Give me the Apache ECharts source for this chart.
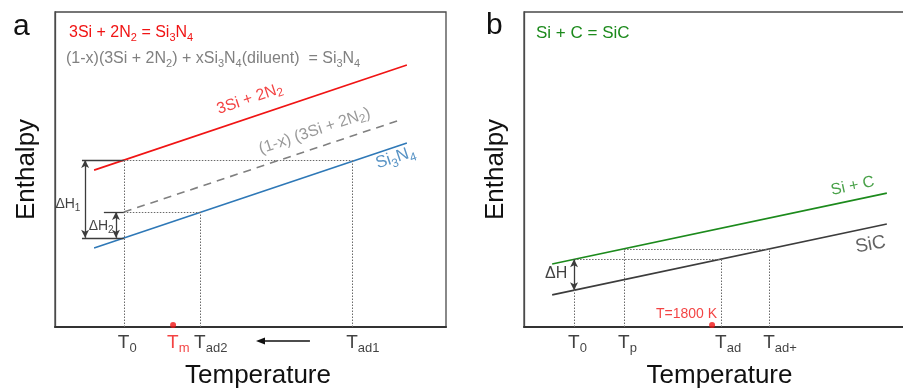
<!DOCTYPE html>
<html>
<head>
<meta charset="utf-8">
<script src="https://cdn.jsdelivr.net/npm/echarts@6/dist/echarts.min.js"></script>
<style>
  html, body { margin: 0; padding: 0; background: #fff; }
  #main { width: 903px; height: 390px; }
</style>
</head>
<body>
<div id="main"></div>
<script>
// both panels use arbitrary units: 0..100 along temperature and enthalpy

// ---- panel a : 3Si + 2N2 = Si3N4 ----
const aReactant = [[10, 49.8], [90, 83.2]]     // 3Si + 2N2
const aProduct = [[10, 25.1], [90, 58.4]]      // Si3N4
const aDiluted = [[17.6, 36.5], [88.2, 65.7]]  // (1-x)(3Si + 2N2), dashed
const aTickNames = ['T_0', 'T_m', 'T_{ad2}', 'T_{ad1}']
const aTickX = [17.6, 30.2, 37.1, 76.0]
const aLevels = [53.0, 36.5, 28.3]             // reactant@T0, product@Tad2, product@T0
const aMelt = [30.2, 0.6]
const aShift = [65.2, 51.4]                    // arrow Tad1 -> Tad2

// ---- panel b : Si + C = SiC ----
const bReactant = [[7.2, 20.0], [92.8, 42.5]]  // Si + C
const bProduct = [[7.2, 10.2], [92.8, 32.7]]   // SiC
const bTickNames = ['T_0', 'T_p', 'T_{ad}', 'T_{ad+}']
const bTickX = [12.8, 25.6, 50.4, 62.7]
const bLevels = [21.5, 24.8, 11.7]             // reactant@T0 (= SiC@Tad), reactant@Tp (= SiC@Tad+), SiC@T0
const bMelt = [48.1, 0.6]

const FONT = 'Liberation Sans, Arial, sans-serif'
const RED = '#f01414'
const BLUE = '#2e78b7'
const GREEN = '#1c8a1c'
const GREY = '#808080'
const DARK = '#3c3c3c'

// "Si_3N_4" / "T_{ad1}" -> rich text tokens
function sub (str) {
  const re = /_(?:\{([^}]*)\}|(\w))/g
  let out = ''
  let last = 0
  let m
  while ((m = re.exec(str))) {
    if (m.index > last) out += '{n|' + str.slice(last, m.index) + '}'
    out += '{s|' + (m[1] || m[2]) + '}'
    last = re.lastIndex
  }
  if (last < str.length) out += '{n|' + str.slice(last) + '}'
  return out
}

function richStyle (size, color, subSize, drop) {
  const s = subSize || Math.round(size * 0.72)
  return {
    n: { fontSize: size, fontWeight: 'normal', color: color, fontFamily: FONT, verticalAlign: 'top', lineHeight: Math.round(size * 1.15) },
    s: { fontSize: s, fontWeight: 'normal', color: color, fontFamily: FONT, verticalAlign: 'bottom', lineHeight: Math.round(s * 1.15), padding: [Math.round(size * (drop || 0.5)), 0, 0, 0] }
  }
}

// text placed at a data point
function note (x, y, text, size, color, rotate, extra) {
  return {
    value: [x, y],
    label: Object.assign({
      show: true,
      position: 'inside',
      formatter: sub(text),
      rich: richStyle(size, color),
      rotate: rotate || 0,
      align: 'center',
      verticalAlign: 'middle'
    }, extra || {})
  }
}

function tickNotes (names, xs, colors) {
  return names.map((name, i) => note(xs[i], 0, name, 19, colors[i], 0, {
    align: 'left', verticalAlign: 'top', offset: [-6, 6], rich: richStyle(19, colors[i], 13, 0.45)
  }))
}

function seg (x1, y1, x2, y2) {
  return [{ coord: [x1, y1] }, { coord: [x2, y2] }]
}

function lineSeries (idx, data, color, type, marks) {
  const s = {
    type: 'line',
    xAxisIndex: idx,
    yAxisIndex: idx,
    data: data,
    symbol: 'none',
    silent: true,
    animation: false,
    lineStyle: { color: color, width: 1.6, type: type || 'solid' }
  }
  if (marks) s.markLine = marks
  return s
}

function guides (list, style, symbol) {
  return {
    silent: true,
    animation: false,
    symbol: symbol || 'none',
    symbolSize: [6, 8],
    label: { show: false },
    lineStyle: style,
    data: list
  }
}

function textSeries (idx, data) {
  return {
    type: 'scatter',
    xAxisIndex: idx,
    yAxisIndex: idx,
    symbolSize: 0,
    silent: true,
    clip: false,
    animation: false,
    data: data
  }
}

const dotted = { color: '#6a6a6a', width: 1, type: [1.5, 1.5] }
const solid = { color: DARK, width: 1.3, type: 'solid' }

const axisCommon = {
  type: 'value',
  min: 0,
  max: 100,
  axisLabel: { show: false },
  axisTick: { show: false },
  splitLine: { show: false }
}

const option = {
  animation: false,
  backgroundColor: '#fff',
  title: [
    { text: 'a', left: 8, top: 7, textStyle: { fontSize: 30, fontWeight: 'normal', color: '#111', fontFamily: FONT } },
    { text: 'b', left: 481, top: 6, textStyle: { fontSize: 30, fontWeight: 'normal', color: '#111', fontFamily: FONT } },
    { text: sub('3Si + 2N_2 = Si_3N_4'), left: 64, top: 20, textStyle: { fontWeight: 'normal', rich: richStyle(16, RED, 11, 0.4) } },
    { text: sub('(1-x)(3Si + 2N_2) + xSi_3N_4(diluent)  = Si_3N_4'), left: 61, top: 46, textStyle: { fontWeight: 'normal', rich: richStyle(16, GREY, 11, 0.4) } },
    { text: 'Si + C = SiC', left: 531, top: 20, textStyle: { fontSize: 17, fontWeight: 'normal', color: GREEN, fontFamily: FONT } }
  ],
  grid: [
    { left: 55, top: 12, width: 391, height: 315, show: true, borderColor: '#4a4a4a', borderWidth: 1.3, outerBoundsMode: 'none' },
    { left: 524, top: 12, width: 391, height: 315, show: true, borderColor: '#4a4a4a', borderWidth: 1.3, outerBoundsMode: 'none' }
  ],
  xAxis: [0, 1].map(i => Object.assign({}, axisCommon, {
    gridIndex: i,
    axisLine: { show: true, lineStyle: { color: '#333', width: 2 } },
    name: 'Temperature',
    nameLocation: 'middle',
    nameGap: 36,
    nameTextStyle: { fontSize: 26, color: '#111', fontFamily: FONT, padding: i === 0 ? [0, 0, 0, 15] : 0 }
  })),
  yAxis: [0, 1].map(i => Object.assign({}, axisCommon, {
    gridIndex: i,
    axisLine: { show: true, lineStyle: { color: '#4a4a4a', width: 1.3 } },
    name: 'Enthalpy',
    nameLocation: 'middle',
    nameGap: 15,
    nameTextStyle: { fontSize: 26, color: '#111', fontFamily: FONT }
  })),
  series: [
    // panel a guides
    lineSeries(0, aReactant, RED, 'solid', guides([
      seg(aTickX[0], 0, aTickX[0], aLevels[0]),
      seg(aTickX[2], 0, aTickX[2], aLevels[1]),
      seg(aTickX[3], 0, aTickX[3], aLevels[0]),
      seg(aTickX[0], aLevels[0], aTickX[3], aLevels[0]),
      seg(aTickX[0], aLevels[1], aTickX[2], aLevels[1])
    ], dotted)),
    lineSeries(0, aProduct, BLUE, 'solid', guides([
      seg(6.9, aLevels[0], aTickX[0], aLevels[0]),
      seg(6.9, aLevels[2], aTickX[0], aLevels[2]),
      seg(12.5, aLevels[1], aTickX[0], aLevels[1])
    ], solid)),
    lineSeries(0, aDiluted, GREY, [8, 6], guides([
      seg(7.7, aLevels[0], 7.7, aLevels[2]),
      seg(15.6, aLevels[1], 15.6, aLevels[2])
    ], solid, ['arrow', 'arrow'])),
    textSeries(0, [
      note(49.9, 72.1, '3Si + 2N_2', 16, RED, 18.5),
      note(66.5, 61.9, '(1-x) (3Si + 2N_2)', 16, GREY, 18.5),
      note(87.2, 53.3, 'Si_3N_4', 17, BLUE, 18.5),
      note(3.3, 38.7, 'ΔH_1', 14, '#111'),
      note(11.8, 31.7, 'ΔH_2', 14, '#111')
    ].concat(tickNotes(aTickNames, aTickX, ['#111', RED, '#111', '#111']))),
    {
      type: 'scatter', xAxisIndex: 0, yAxisIndex: 0, silent: true, animation: false,
      symbolSize: 6, itemStyle: { color: RED }, data: [aMelt]
    },
    // panel b
    lineSeries(1, bReactant, GREEN, 'solid', guides([
      seg(bTickX[0], 0, bTickX[0], bLevels[0]),
      seg(bTickX[1], 0, bTickX[1], bLevels[1]),
      seg(bTickX[2], 0, bTickX[2], bLevels[0]),
      seg(bTickX[3], 0, bTickX[3], bLevels[1]),
      seg(bTickX[0], bLevels[0], bTickX[2], bLevels[0]),
      seg(bTickX[1], bLevels[1], bTickX[3], bLevels[1])
    ], dotted)),
    lineSeries(1, bProduct, DARK, 'solid', guides([
      seg(bTickX[0], bLevels[0], bTickX[0], bLevels[2])
    ], solid, ['arrow', 'arrow'])),
    textSeries(1, [
      note(84.1, 44.4, 'Si + C', 16, GREEN, 12),
      note(88.7, 25.7, 'SiC', 19, DARK, 10),
      note(8.2, 16.5, 'ΔH', 16, '#111')
    ].concat(tickNotes(bTickNames, bTickX, ['#111', '#111', '#111', '#111']))),
    {
      type: 'scatter', xAxisIndex: 1, yAxisIndex: 1, silent: true, animation: false,
      symbolSize: 6, itemStyle: { color: RED },
      data: [{
        value: bMelt,
        label: {
          show: true, position: 'inside', align: 'right', verticalAlign: 'bottom', offset: [5, -4],
          formatter: 'T=1800 K', fontSize: 14, color: RED, fontFamily: FONT
        }
      }]
    }
  ]
}

const chart = echarts.init(document.getElementById('main'))
chart.setOption(option)

// direction arrow under panel a (Tad1 -> Tad2)
const p1 = chart.convertToPixel({ xAxisIndex: 0, yAxisIndex: 0 }, [aShift[0], 0])
const p2 = chart.convertToPixel({ xAxisIndex: 0, yAxisIndex: 0 }, [aShift[1], 0])
const ay = p1[1] + 14
chart.setOption({
  graphic: [
    { type: 'line', shape: { x1: p1[0], y1: ay, x2: p2[0] + 6, y2: ay }, style: { stroke: '#111', lineWidth: 1.6 } },
    { type: 'polygon', shape: { points: [[p2[0], ay], [p2[0] + 9, ay - 3.5], [p2[0] + 9, ay + 3.5]] }, style: { fill: '#111' } }
  ]
})
</script>
</body>
</html>
